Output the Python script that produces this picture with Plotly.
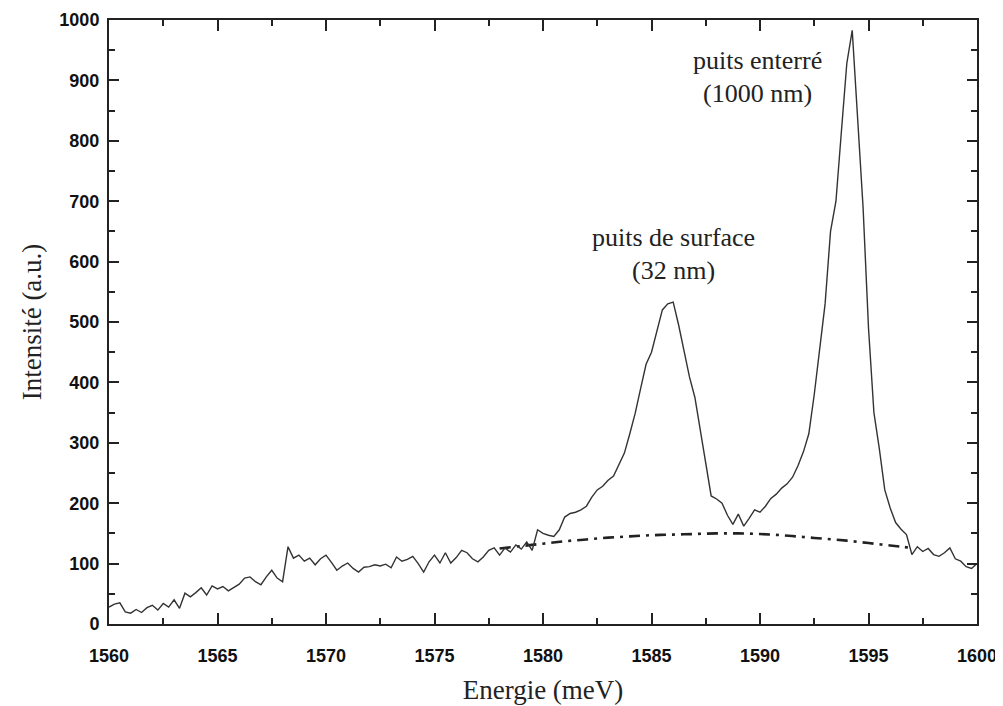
import plotly.graph_objects as go

energy = [1560 + 0.25 * i for i in range(161)]
intensity = [
    28, 33, 35, 20, 18, 24, 19, 27, 31, 23, 34, 28, 40, 26, 51, 45,
    52, 60, 48, 63, 58, 62, 55, 60, 66, 76, 78, 70, 65, 78, 89, 76,
    70, 128, 109, 114, 104, 109, 98, 108, 114, 102, 89, 96, 101, 92, 86, 94,
    95, 98, 96, 99, 93, 111, 104, 107, 112, 100, 86, 103, 114, 101, 118, 101,
    110, 122, 118, 108, 103, 111, 122, 126, 114, 126, 119, 131, 124, 136, 122, 156,
    150, 147, 145, 156, 177, 183, 185, 189, 195, 210, 222, 228, 238, 245, 265, 283,
    315, 349, 390, 430, 450, 487, 520, 530, 533, 495, 450, 409, 375, 320, 262, 212,
    207, 200, 180, 165, 182, 162, 175, 189, 185, 195, 208, 215, 225, 232, 243, 262,
    285, 315, 380, 455, 530, 650, 700, 815, 928, 983, 845, 690, 490, 350, 290, 222,
    192, 168, 157, 148, 115, 128, 120, 125, 115, 112, 118, 126, 108, 104, 95, 92,
    100,
]

base_energy = [1578, 1579, 1580, 1581, 1582, 1583, 1584, 1585, 1586, 1587,
               1588, 1589, 1590, 1591, 1592, 1593, 1594, 1595, 1596, 1597]
base_intensity = [125, 129, 133, 137, 140, 143, 145, 147, 148, 149,
                  150, 150, 149, 147, 144, 141, 138, 134, 130, 126]

x_ticks = [1560, 1565, 1570, 1575, 1580, 1585, 1590, 1595, 1600]
y_ticks = [0, 100, 200, 300, 400, 500, 600, 700, 800, 900, 1000]

fig = go.Figure()
fig.add_trace(go.Scatter(x=base_energy, y=base_intensity, mode="lines",
                         line=dict(color="#222", width=2.6, dash="11px,6px,3px,6px", shape="spline"),
                         showlegend=False, hoverinfo="skip"))
fig.add_trace(go.Scatter(x=energy, y=intensity, mode="lines",
                         line=dict(color="#333", width=1.4),
                         showlegend=False))

tickfont = dict(family="Liberation Sans, Arial, sans-serif", size=18, color="#111", weight="bold")
serif = "Liberation Serif, Times New Roman, serif"

fig.update_xaxes(range=[1560, 1600], tickvals=x_ticks, ticktext=[str(v) for v in x_ticks],
                 ticks="inside", ticklen=11, tickwidth=2, tickcolor="#222",
                 showline=True, linewidth=2, linecolor="#222", mirror="allticks",
                 showgrid=False, zeroline=False, tickfont=tickfont, ticklabelstandoff=14,
                 automargin=False, ticklabeloverflow="allow",
                 minor=dict(dtick=2.5, tick0=1560, ticks="inside", ticklen=6, tickwidth=2, tickcolor="#222", showgrid=False),
                 title=dict(text="Energie (meV)", font=dict(family=serif, size=27, color="#222"), standoff=16))
fig.update_yaxes(range=[0, 1000], tickvals=y_ticks, ticktext=[str(v) for v in y_ticks],
                 ticks="inside", ticklen=10, tickwidth=2, tickcolor="#222",
                 showline=True, linewidth=2, linecolor="#222", mirror="allticks",
                 showgrid=False, zeroline=False, tickfont=tickfont, ticklabelstandoff=4,
                 automargin=False, ticklabeloverflow="allow",
                 minor=dict(dtick=50, tick0=0, ticks="inside", ticklen=6, tickwidth=2, tickcolor="#222", showgrid=False),
                 title=dict(text="Intensité (a.u.)", font=dict(family=serif, size=27, color="#222"), standoff=10))

labels = [
    (1589.9, 933, "puits enterré"),
    (1589.9, 878, "(1000 nm)"),
    (1586.0, 640, "puits de surface"),
    (1586.0, 586, "(32 nm)"),
]
for lx, ly, t in labels:
    fig.add_annotation(x=lx, y=ly, text=t, showarrow=False, xanchor="center", yanchor="middle",
                       font=dict(family=serif, size=26, color="#222"))

fig.update_layout(width=995, height=698, margin=dict(l=101, r=26, t=12, b=82),
                  plot_bgcolor="white", paper_bgcolor="white")

fig.write_html("out.html")
